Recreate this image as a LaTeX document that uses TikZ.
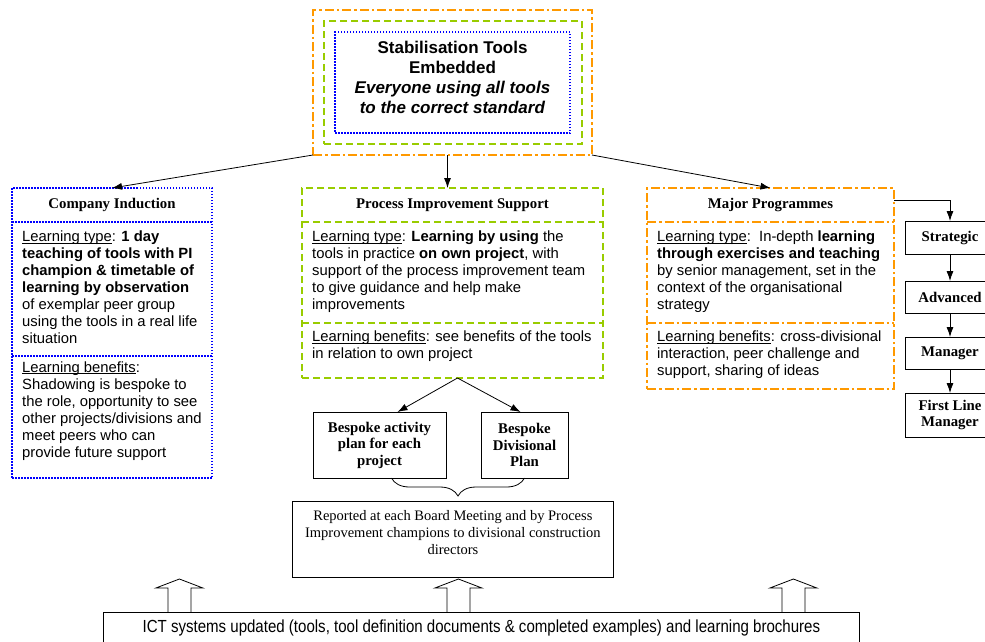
\documentclass[tikz,border=0pt]{standalone}
\usepackage{fontspec}
\setmainfont{Liberation Serif}
\setsansfont{Liberation Sans}
\newfontfamily\narrowfont[FakeStretch=0.86]{Liberation Sans}
\usetikzlibrary{arrows.meta,decorations.pathreplacing}
\definecolor{piblue}{RGB}{0,0,255}
\definecolor{pigreen}{RGB}{153,204,0}
\definecolor{piorange}{RGB}{255,153,0}
\newcommand{\ulabel}[1]{\underline{\smash{#1}}}
\tikzset{
  boxframe/.style={rectangle, inner sep=0pt, outer sep=0pt, anchor=north west},
  dotline/.style={draw=piblue, line width=1.5pt, dash pattern=on 1.5pt off 1.5pt},
  dashline/.style={draw=pigreen, line width=1.5pt, dash pattern=on 7pt off 4pt},
  dashdotline/.style={draw=piorange, line width=1.5pt, dash pattern=on 9pt off 3pt on 2.5pt off 3pt},
  dotframe/.style={boxframe, dotline},
  dashframe/.style={boxframe, dashline},
  dashdotframe/.style={boxframe, dashdotline},
  headtext/.style={boxframe, font=\rmfamily\bfseries\fontsize{14.8}{17}\selectfont},
  bodytext/.style={font=\sffamily\fontsize{14.8}{17}\selectfont, align=left, inner sep=0pt, anchor=north west},
  plainbox/.style={draw, line width=0.8pt, inner sep=0pt, outer sep=0pt, align=center, font=\rmfamily\bfseries\fontsize{14.8}{16.5}\selectfont},
  arr/.style={-{Latex[length=10pt,width=7pt]}, line width=0.8pt},
  blockarrow/.style={draw, line width=0.8pt, line join=miter}
}
\begin{document}
\begin{tikzpicture}[x=1pt,y=-1pt]
\useasboundingbox (0,0) rectangle (985,641);

% goal at the top
\node[dashdotframe, minimum width=279pt, minimum height=145pt] (outer) at (313,10) {};
\node[dashframe, minimum width=258pt, minimum height=123pt] (middle) at (324,21) {};
\node[dotframe, minimum width=235pt, minimum height=101pt] (inner) at (335,32) {};
\node[align=center, font=\sffamily\bfseries\fontsize{17}{20}\selectfont] (goal) at ([yshift=5pt]inner.center)
  {Stabilisation Tools\\Embedded\\\textit{Everyone using all tools}\\\textit{to the correct standard}};

% company induction
\node[dotframe, minimum width=200pt, minimum height=290pt] (cibox) at (12,188) {};
\node[headtext, minimum width=200pt, minimum height=34pt] (cihead) at (cibox.north west) {Company Induction};
\node[boxframe, minimum width=200pt, minimum height=134pt] (citype) at (cihead.south west) {};
\node[boxframe, minimum width=200pt, minimum height=122pt] (cibenefit) at (citype.south west) {};
\draw[dotline] (citype.north west) -- (citype.north east);
\draw[dotline] (cibenefit.north west) -- (cibenefit.north east);
\node[bodytext] (citypetext) at ([shift={(10,9)}]citype.north west)
  {\ulabel{Learning type}: \textbf{1 day}\\
   \textbf{teaching of tools with PI}\\
   \textbf{champion \& timetable of}\\
   \textbf{learning by observation}\\
   of exemplar peer group\\
   using the tools in a real life\\
   situation};
\node[bodytext] (cibenefittext) at ([shift={(10,8)}]cibenefit.north west)
  {\ulabel{Learning benefits}:\\
   Shadowing is bespoke to\\
   the role, opportunity to see\\
   other projects/divisions and\\
   meet peers who can\\
   provide future support};

% process improvement support
\node[dashframe, minimum width=301pt, minimum height=190pt] (pibox) at (302,188) {};
\node[headtext, minimum width=301pt, minimum height=34pt] (pihead) at (pibox.north west) {Process Improvement Support};
\node[boxframe, minimum width=301pt, minimum height=101pt] (pitype) at (pihead.south west) {};
\node[boxframe, minimum width=301pt, minimum height=55pt] (pibenefit) at (pitype.south west) {};
\draw[dashline] (pitype.north west) -- (pitype.north east);
\draw[dashline] (pibenefit.north west) -- (pibenefit.north east);
\node[bodytext] (pitypetext) at ([shift={(10,9)}]pitype.north west)
  {\ulabel{Learning type}: \textbf{Learning by using} the\\
   tools in practice \textbf{on own project}, with\\
   support of the process improvement team\\
   to give guidance and help make\\
   improvements};
\node[bodytext] (pibenefittext) at ([shift={(10,8)}]pibenefit.north west)
  {\ulabel{Learning benefits}: see benefits of the tools\\
   in relation to own project};

% major programmes
\node[dashdotframe, minimum width=247pt, minimum height=201pt] (mpbox) at (647,188) {};
\node[headtext, minimum width=247pt, minimum height=34pt] (mphead) at (mpbox.north west) {Major Programmes};
\node[boxframe, minimum width=247pt, minimum height=101pt] (mptype) at (mphead.south west) {};
\node[boxframe, minimum width=247pt, minimum height=66pt] (mpbenefit) at (mptype.south west) {};
\draw[dashdotline] (mptype.north west) -- (mptype.north east);
\draw[dashdotline] (mpbenefit.north west) -- (mpbenefit.north east);
\node[bodytext] (mptypetext) at ([shift={(10,9)}]mptype.north west)
  {\ulabel{Learning type}:\ \ In-depth \textbf{learning}\\
   \textbf{through exercises and teaching}\\
   by senior management, set in the\\
   context of the organisational\\
   strategy};
\node[bodytext] (mpbenefittext) at ([shift={(10,8)}]mpbenefit.north west)
  {\ulabel{Learning benefits}: cross-divisional\\
   interaction, peer challenge and\\
   support, sharing of ideas};

% levels
\node[plainbox, minimum width=90pt, minimum height=33pt] (strategic) at (950,237.5) {Strategic};
\node[plainbox, minimum width=90pt, minimum height=32pt] (advanced) at (950,297) {Advanced};
\node[plainbox, minimum width=90pt, minimum height=32pt] (manager) at (950,353) {Manager};
\node[plainbox, minimum width=90pt, minimum height=44pt] (firstline) at (950,415) {First Line\\Manager};

% plans and reporting
\node[plainbox, anchor=north west, minimum width=133pt, minimum height=66pt] (bsactivity) at (313,412) {Bespoke activity\\plan for each\\project};
\node[plainbox, anchor=north west, minimum width=87pt, minimum height=66pt] (bsdivision) at (481,412) {Bespoke\\Divisional\\Plan};
\node[draw, line width=0.8pt, anchor=north west, inner sep=0pt, minimum width=321pt, minimum height=76pt] (report) at (292,501) {};
\node[anchor=north, align=center, inner sep=0pt, font=\rmfamily\fontsize{14.5}{17}\selectfont] (reporttext) at ([shift={(0,9)}]report.north)
  {Reported at each Board Meeting and by Process\\
   Improvement champions to divisional construction\\
   directors};
\node[draw, line width=0.8pt, anchor=north west, inner sep=0pt, minimum width=756pt, minimum height=32pt,
  font=\narrowfont\fontsize{17.5}{20}\selectfont] (ict) at (103,612)
  {ICT systems updated (tools, tool definition documents \& completed examples) and learning brochures};

% connectors
\draw[arr] (outer.south west) -- (cibox.north);
\draw[arr] ([xshift=-5pt]outer.south) -- ([xshift=-5pt]pibox.north);
\draw[arr] (outer.south east) -- (mpbox.north);
\draw[arr] ([yshift=-12pt]mpbox.north east) -| (strategic.north);
\draw[arr] (strategic) -- (advanced);
\draw[arr] (advanced) -- (manager);
\draw[arr] (manager) -- (firstline);
\draw[arr] ([xshift=5pt]pibox.south) -- ([xshift=18pt]bsactivity.north);
\draw[arr] ([xshift=5pt]pibox.south) -- ([xshift=-4pt]bsdivision.north);
\draw[decorate, decoration={brace, mirror, amplitude=18pt}, line width=0.8pt]
  ([xshift=12pt]bsactivity.south) -- (bsdivision.south);
\foreach \dx in {-302,-23,312}
  \draw[blockarrow] ([xshift=\dx pt]ict.north) ++(-11.5,0) -- ++(0,-24) -- ++(-12,0)
    -- ++(23.5,-9) -- ++(23.5,9) -- ++(-12,0) -- ++(0,24);
\end{tikzpicture}
\end{document}
